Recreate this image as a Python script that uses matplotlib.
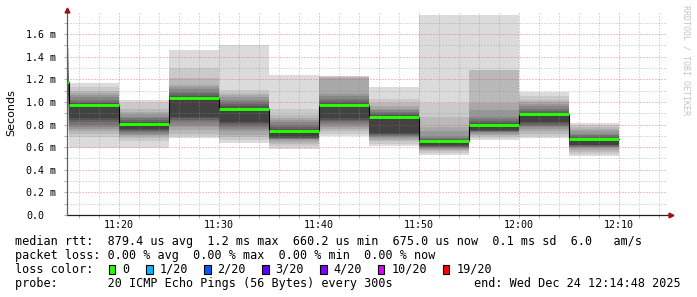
import numpy as np
import pandas as pd
import matplotlib
matplotlib.use("Agg")
import matplotlib.pyplot as plt
import matplotlib.dates as mdates
from matplotlib.patches import Rectangle

# 5 minute steps (start times), latency in ms
step_start = pd.date_range("2025-12-24 11:10", "2025-12-24 12:05", freq="5min")
step_end = pd.Timestamp("2025-12-24 12:10")
view_start = pd.Timestamp("2025-12-24 11:14:48")
view_end = pd.Timestamp("2025-12-24 12:14:48")

median_ms = [1.18, 0.975, 0.805, 1.034, 0.940, 0.745, 0.970, 0.869, 0.654, 0.796, 0.890, 0.672]

# 20 sorted pings per step
pings_ms = [
    [0.74, 0.80, 0.85, 0.90, 0.95, 0.98, 1.00, 1.02, 1.04, 1.06, 1.18, 1.20, 1.22, 1.25, 1.28, 1.31, 1.35, 1.39, 1.43, 1.48],
    [0.59, 0.69, 0.72, 0.74, 0.76, 0.78, 0.80, 0.82, 0.84, 0.855, 0.975, 0.99, 1.00, 1.02, 1.04, 1.06, 1.08, 1.10, 1.13, 1.17],
    [0.59, 0.65, 0.68, 0.70, 0.71, 0.72, 0.73, 0.74, 0.75, 0.758, 0.805, 0.82, 0.84, 0.86, 0.87, 0.89, 0.91, 0.94, 0.99, 1.02],
    [0.68, 0.70, 0.72, 0.75, 0.78, 0.80, 0.82, 0.84, 0.855, 0.869, 1.034, 1.05, 1.07, 1.09, 1.11, 1.13, 1.15, 1.21, 1.30, 1.46],
    [0.64, 0.66, 0.69, 0.71, 0.74, 0.76, 0.78, 0.80, 0.81, 0.825, 0.94, 0.96, 0.98, 1.00, 1.02, 1.04, 1.06, 1.08, 1.105, 1.50],
    [0.58, 0.61, 0.63, 0.645, 0.66, 0.67, 0.675, 0.68, 0.685, 0.692, 0.745, 0.76, 0.78, 0.80, 0.82, 0.84, 0.86, 0.88, 0.94, 1.24],
    [0.70, 0.72, 0.74, 0.76, 0.78, 0.80, 0.815, 0.83, 0.84, 0.855, 0.97, 0.99, 1.01, 1.03, 1.05, 1.07, 1.21, 1.22, 1.225, 1.23],
    [0.61, 0.63, 0.65, 0.665, 0.68, 0.69, 0.70, 0.71, 0.715, 0.722, 0.869, 0.88, 0.90, 0.91, 0.925, 0.94, 0.96, 0.99, 1.03, 1.13],
    [0.53, 0.55, 0.565, 0.575, 0.585, 0.59, 0.60, 0.605, 0.61, 0.619, 0.654, 0.66, 0.67, 0.68, 0.70, 0.74, 0.78, 0.87, 0.99, 1.77],
    [0.66, 0.68, 0.695, 0.71, 0.72, 0.73, 0.735, 0.74, 0.745, 0.752, 0.796, 0.81, 0.83, 0.85, 0.87, 0.93, 0.99, 1.28, 1.28, 1.77],
    [0.68, 0.70, 0.72, 0.74, 0.76, 0.78, 0.79, 0.80, 0.81, 0.825, 0.89, 0.90, 0.92, 0.94, 0.96, 0.98, 1.00, 1.02, 1.05, 1.085],
    [0.52, 0.54, 0.56, 0.575, 0.59, 0.60, 0.605, 0.61, 0.615, 0.619, 0.672, 0.68, 0.70, 0.71, 0.72, 0.74, 0.76, 0.78, 0.80, 0.81],
]

ytick_vals = [0.0, 0.2, 0.4, 0.6, 0.8, 1.0, 1.2, 1.4, 1.6]
ytick_labels = ["0.0", "0.2 m", "0.4 m", "0.6 m", "0.8 m", "1.0 m", "1.2 m", "1.4 m", "1.6 m"]

loss_labels = ["0", "1/20", "2/20", "3/20", "4/20", "10/20", "19/20"]
loss_colors = ["#26ff00", "#00b8ff", "#0059ff", "#5e00ff", "#7e00ff", "#dd00ff", "#ff0000"]

W, H = 697, 297
MONO = "DejaVu Sans Mono"

fig = plt.figure(figsize=(W / 100, H / 100), dpi=100)
fig.patch.set_facecolor("white")
ax = fig.add_axes([67 / W, 82 / H, 600 / W, 202 / H])

x_edges = mdates.date2num(list(step_start) + [step_end])
pings = np.array(pings_ms)
n = pings.shape[1]
half = n // 2

# smoke: outer pairs light, inner pairs dark
for ibot in range(1, half + 1):
    itop = n + 1 - ibot
    g = int(170 / half * (half - ibot)) + 66
    lo = np.append(pings[:, ibot - 1], pings[-1, ibot - 1])
    hi = np.append(pings[:, itop - 1], pings[-1, itop - 1])
    ax.fill_between(x_edges, lo, hi, step="post", color="#%02x%02x%02x" % (g, g, g),
                    linewidth=0, zorder=1)

med = np.append(median_ms, median_ms[-1])
ax.step(x_edges, med, where="post", color="#000000", lw=0.8, zorder=3)
ax.hlines(median_ms, x_edges[:-1], x_edges[1:], color=loss_colors[0], lw=2.1, zorder=4)

ax.set_xlim(mdates.date2num(view_start), mdates.date2num(view_end))
ax.set_ylim(0, 1.786)

ax.xaxis.set_major_locator(mdates.MinuteLocator(byminute=range(0, 60, 10)))
ax.xaxis.set_minor_locator(mdates.MinuteLocator(byminute=range(0, 60, 2)))
ax.xaxis.set_major_formatter(mdates.DateFormatter("%H:%M"))
ax.set_yticks(ytick_vals, ytick_labels)
ax.set_yticks(np.arange(0.1, 1.8, 0.2), minor=True)

ax.set_axisbelow(False)
ax.grid(which="minor", color="#909090", alpha=0.6, lw=0.72, ls=(0, (1, 2)))
ax.grid(which="major", color="#e04848", alpha=0.65, lw=0.72, ls=(0, (1, 2)))

ax.tick_params(axis="both", which="both", length=2.2, width=0.7, color="#b0b0b0")
ax.tick_params(axis="y", which="major", labelsize=7.2, pad=27.4)
ax.tick_params(axis="x", which="major", labelsize=7.2, pad=1.5)
for lab in ax.get_yticklabels():
    lab.set_horizontalalignment("left")
    lab.set_family(MONO)
for lab in ax.get_xticklabels():
    lab.set_family(MONO)

for s in ax.spines.values():
    s.set_visible(False)

# axes with arrows
ax.plot([0, 1.008], [0, 0], transform=ax.transAxes, color="#202020", lw=0.9, clip_on=False, zorder=5)
ax.plot([0, 0], [0, 1.02], transform=ax.transAxes, color="#606060", lw=0.9, clip_on=False, zorder=5)
ax.plot([1.007], [0], transform=ax.transAxes, marker=">", ms=3.5, color="#a01010", clip_on=False, zorder=6)
ax.plot([0], [1.017], transform=ax.transAxes, marker="^", ms=3.5, color="#a01010", clip_on=False, zorder=6)


def fx(px):
    return px / W


def fy(py):
    return 1 - py / H


fig.text(fx(11), fy(113), "Seconds", rotation=90, ha="center", va="center",
         fontsize=8, family="DejaVu Sans")
fig.text(fx(686), fy(60), "RRDTOOL / TOBI OETIKER", rotation=-90, ha="center", va="center",
         fontsize=6, family=MONO, color="#c4c4c4")

fs = 8.5
line1 = "median rtt:  879.4 us avg  1.2 ms max  660.2 us min  675.0 us now  0.1 ms sd  6.0   am/s"
line2 = "packet loss: 0.00 % avg  0.00 % max  0.00 % min  0.00 % now"
line4 = "probe:       20 ICMP Echo Pings (56 Bytes) every 300s"
end_text = "end: Wed Dec 24 12:14:48 2025"
fig.text(fx(15), fy(245), line1, fontsize=fs, family=MONO, va="baseline")
fig.text(fx(15), fy(259), line2, fontsize=fs, family=MONO, va="baseline")
fig.text(fx(15), fy(273), "loss color:", fontsize=fs, family=MONO, va="baseline")
fig.text(fx(15), fy(287), line4, fontsize=fs, family=MONO, va="baseline")
fig.text(fx(681), fy(287), end_text, fontsize=fs, family=MONO, va="baseline", ha="right")

sq_x = [108.5, 146, 204, 262, 320, 377.5, 442.5]
lab_x = [122, 160, 217, 275, 333, 391.5, 456.5]
for sx, lx, lab, col in zip(sq_x, lab_x, loss_labels, loss_colors):
    fig.patches.append(Rectangle((fx(sx), fy(273.5)), 6.5 / W, 8.5 / H, facecolor=col,
                                 edgecolor="black", lw=0.8, transform=fig.transFigure))
    fig.text(fx(lx), fy(273), lab, fontsize=fs, family=MONO, va="baseline")

fig.savefig("out.png", dpi=100)
